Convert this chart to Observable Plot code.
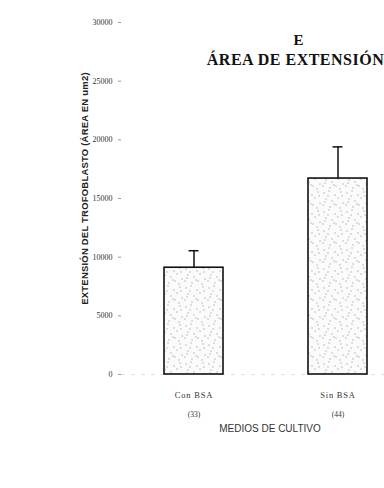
<!DOCTYPE html>
<html>
<head>
<meta charset="utf-8">
<script src="https://cdn.jsdelivr.net/npm/d3@7"></script>
<script src="https://cdn.jsdelivr.net/npm/@observablehq/plot@0.6"></script>
<style>
  html, body { margin: 0; padding: 0; background: #fff; }
  #chart { width: 384px; height: 488px; overflow: hidden; }
</style>
</head>
<body>
<div id="chart"></div>
<script>
const categories = ["Con BSA", "Sin BSA"];
const counts = ["(33)", "(44)"];
const means = [9100, 16700];
const errorTops = [10550, 19400];
const yTicks = [0, 5000, 10000, 15000, 20000, 25000, 30000];
const titleLines = ["E", "ÁREA DE EXTENSIÓN"];
const yLabel = "EXTENSIÓN DEL TROFOBLASTO (ÁREA EN um2)";
const xLabel = "MEDIOS DE CULTIVO";

const rows = categories.map((c, i) => ({cat: c, n: counts[i], mean: means[i], hi: errorTops[i]}));

const serif = "'Liberation Serif', 'DejaVu Serif', serif";
const sans = "'Liberation Sans', 'DejaVu Sans', sans-serif";

const plot = Plot.plot({
  width: 384,
  height: 488,
  marginLeft: 121,
  marginRight: 0,
  marginTop: 22,
  marginBottom: 114,
  style: {background: "#fff", fontFamily: serif},
  x: {domain: categories, paddingInner: 0.59, paddingOuter: 0.208, align: 0.725, axis: null},
  y: {domain: [0, 30000], axis: null},
  marks: [
    Plot.axisY({ticks: yTicks, tickFormat: d => String(d), tickSize: 3, tickPadding: 6,
      fontSize: 8, fill: "#333", stroke: "#999", fontFamily: serif, label: null}),
    Plot.ruleY([0], {stroke: "#ccc", strokeWidth: 0.6, strokeDasharray: "4,6"}),
    Plot.barY(rows, {x: "cat", y: "mean", fill: "url(#speck)", stroke: "#111", strokeWidth: 1.6}),
    Plot.ruleX(rows, {x: "cat", y1: "mean", y2: "hi", stroke: "#111", strokeWidth: 1.5}),
    Plot.tickY(rows, {x: "cat", y: "hi", stroke: "#111", strokeWidth: 1.5, insetLeft: 24.5, insetRight: 24.5}),
    Plot.text(rows, {x: "cat", y: 0, text: "cat", dy: 21, fontSize: 8.5, fill: "#333", fontFamily: serif}),
    Plot.text(rows, {x: "cat", y: 0, text: "n", dy: 40, fontSize: 7.5, fill: "#333", fontFamily: serif}),
    Plot.text([yLabel], {frameAnchor: "left", dx: -37, dy: -10, rotate: -90, textAnchor: "middle", fontSize: 9.5, fontWeight: "bold",
      fill: "#222", fontFamily: sans}),
    Plot.text([xLabel], {frameAnchor: "bottom", dx: 17, dy: 54, textAnchor: "middle", lineAnchor: "middle",
      fontSize: 10, fill: "#333", fontFamily: sans}),
    Plot.text([titleLines[0]], {frameAnchor: "top-left", dx: 177, dy: 18, fontSize: 15, fontWeight: "bold",
      fill: "#111", fontFamily: serif, textAnchor: "middle", lineAnchor: "middle"}),
    Plot.text([titleLines[1]], {frameAnchor: "top-left", dx: 174, dy: 37, fontSize: 16, fontWeight: "bold",
      fill: "#111", fontFamily: serif, textAnchor: "middle", lineAnchor: "middle"})
  ]
});

// letter spacing tweaks
const spacing = new Map([[titleLines[1], "0.5px"], [categories[0], "0.8px"], [categories[1], "0.8px"], [yLabel, "0.2px"]]);
d3.select(plot).selectAll("text").each(function() {
  const s = spacing.get(this.textContent);
  if (s) this.setAttribute("letter-spacing", s);
});

// stippled fill pattern
const ns = "http://www.w3.org/2000/svg";
const defs = document.createElementNS(ns, "defs");
const pat = document.createElementNS(ns, "pattern");
pat.setAttribute("id", "speck");
pat.setAttribute("patternUnits", "userSpaceOnUse");
pat.setAttribute("width", "23");
pat.setAttribute("height", "19");
const bg = document.createElementNS(ns, "rect");
bg.setAttribute("width", "23"); bg.setAttribute("height", "19"); bg.setAttribute("fill", "#fbfbfb");
pat.appendChild(bg);
const specks = [[2,3],[7,1],[13,5],[19,2],[4,9],[10,11],[16,8],[21,13],[1,15],[8,17],[14,15],[18,18],[6,6],[12,14],[20,6],[3,12]];
for (const [sx, sy] of specks) {
  const c = document.createElementNS(ns, "circle");
  c.setAttribute("cx", sx); c.setAttribute("cy", sy); c.setAttribute("r", "0.7");
  c.setAttribute("fill", "#aaa");
  pat.appendChild(c);
}
defs.appendChild(pat);
plot.insertBefore(defs, plot.firstChild);

document.getElementById("chart").appendChild(plot);
</script>
</body>
</html>
